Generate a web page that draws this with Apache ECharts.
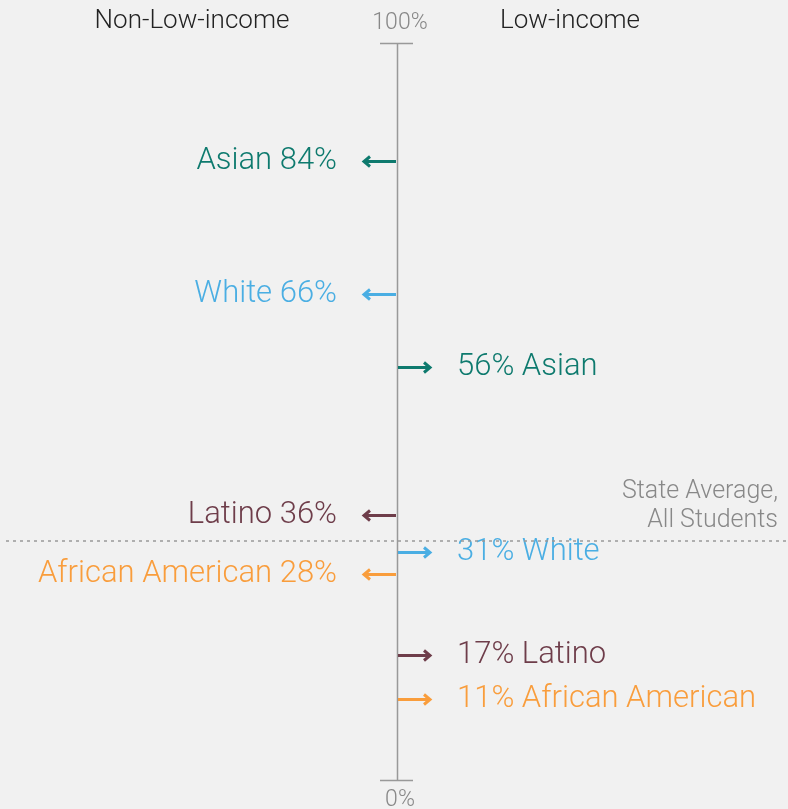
<!DOCTYPE html>
<html>
<head>
<meta charset="utf-8">
<script src="https://cdn.jsdelivr.net/npm/echarts@6/dist/echarts.min.js"></script>
<style>
  html, body { margin: 0; padding: 0; background: #f1f1f1; }
  #chart { width: 788px; height: 809px; }
</style>
</head>
<body>
<div id="chart"></div>
<script>
const groups = ["Asian", "White", "Latino", "African American"];
const nonLowIncome = [84, 66, 36, 28];
const lowIncome = [56, 31, 17, 11];
const stateAverage = 32.4;
const axisTicks = [0, 100];
const headers = ["Non-Low-income", "Low-income"];

const groupColors = ["#0e7a6e", "#4aaee3", "#6e3d4a", "#f99d3c"];
const FONT = "Roboto, 'Liberation Sans', sans-serif";

// one row per arrow: [direction, value, group index]
const arrowData = [];
groups.forEach((g, i) => {
  arrowData.push([-1, nonLowIncome[i], i]);
  arrowData.push([1, lowIncome[i], i]);
});

var myChart = echarts.init(document.getElementById("chart"));

function renderArrow(params, api) {
  const dir = api.value(0);
  const val = api.value(1);
  const gi = api.value(2);
  const p = api.coord([0, val]);
  const color = groupColors[gi];
  const tipX = p[0] + dir * 33;
  const y = Math.round(p[1]) + 0.5;
  const label = dir < 0 ? groups[gi] + " " + val + "%" : val + "% " + groups[gi];
  return {
    type: "group",
    children: [
      {
        type: "line",
        shape: { x1: p[0] + dir * 1, y1: y, x2: tipX, y2: y },
        style: { stroke: color, lineWidth: 3 }
      },
      {
        type: "polyline",
        shape: { points: [[tipX - dir * 6, y - 5], [tipX, y], [tipX - dir * 6, y + 5]] },
        style: { stroke: color, lineWidth: 3, fill: null }
      },
      {
        type: "text",
        x: tipX + dir * 27,
        y: y,
        style: {
          text: label,
          fill: color,
          font: "300 31px " + FONT,
          align: dir < 0 ? "right" : "left",
          verticalAlign: "middle"
        }
      }
    ]
  };
}

function renderTick(params, api) {
  const val = api.value(0);
  const p = api.coord([0, val]);
  const y = Math.round(p[1]) + 0.5;
  return {
    type: "group",
    children: [
      {
        type: "line",
        shape: { x1: p[0] - 17, y1: y, x2: p[0] + 16, y2: y },
        style: { stroke: "#999", lineWidth: 1.5 }
      },
      {
        type: "text",
        x: p[0] + 3,
        y: val === 100 ? y - 20 : y + 20,
        style: {
          text: val + "%",
          fill: "#888",
          font: "300 23px " + FONT,
          align: "center",
          verticalAlign: "middle"
        }
      }
    ]
  };
}

function renderAxisLine(params, api) {
  const top = api.coord([0, api.value(1)]);
  const bottom = api.coord([0, api.value(0)]);
  const x = Math.round(top[0]) + 0.5;
  return {
    type: "line",
    shape: { x1: x, y1: top[1], x2: x, y2: bottom[1] },
    style: { stroke: "#999", lineWidth: 1.5 }
  };
}

myChart.setOption({
  backgroundColor: "#f1f1f1",
  animation: false,
  grid: { left: 6, right: 0, top: 43, bottom: 29 },
  xAxis: { type: "value", min: -1, max: 1, show: false },
  yAxis: { type: "value", min: 0, max: 100, show: false },
  graphic: [
    {
      type: "text", x: 192, y: 21,
      style: { text: headers[0], fill: "#222", font: "300 26px " + FONT, align: "center", verticalAlign: "middle" }
    },
    {
      type: "text", x: 570, y: 21,
      style: { text: headers[1], fill: "#222", font: "300 26px " + FONT, align: "center", verticalAlign: "middle" }
    }
  ],
  series: [
    {
      type: "custom",
      renderItem: renderAxisLine,
      data: [[axisTicks[0], axisTicks[1]]],
      silent: true,
      z: 1
    },
    {
      type: "custom",
      renderItem: renderTick,
      data: axisTicks.map(t => [t]),
      silent: true,
      z: 1
    },
    {
      type: "custom",
      renderItem: renderArrow,
      data: arrowData,
      silent: true,
      z: 3,
      markLine: {
        silent: true,
        symbol: "none",
        lineStyle: { color: "#999", type: [3, 4], width: 1.5 },
        label: {
          position: "insideEndTop",
          formatter: "State Average,\nAll Students",
          color: "#888",
          fontSize: 25,
          fontWeight: 300,
          fontFamily: FONT,
          lineHeight: 29,
          align: "right",
          distance: [10, 6]
        },
        data: [{ yAxis: stateAverage }]
      }
    }
  ]
});
</script>
</body>
</html>
